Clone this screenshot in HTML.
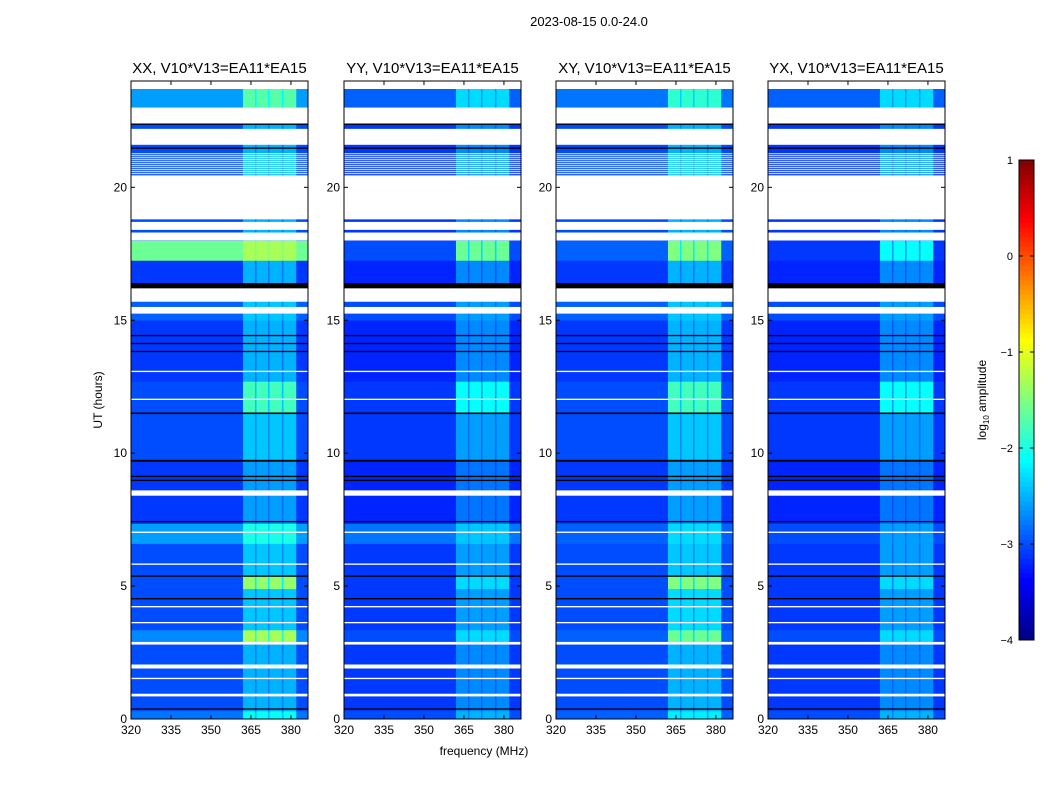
<!DOCTYPE html>
<html><head><meta charset="utf-8"><style>
body{margin:0;background:#fff;font-family:"Liberation Sans",sans-serif}
svg{display:block}
text{font-family:"Liberation Sans",sans-serif}
</style></head><body>
<svg id="fig" width="1050" height="800" viewBox="0 0 1050 800">
<text x="589" y="26" font-size="13" text-anchor="middle">2023-08-15 0.0-24.0</text>
<text x="484" y="755" font-size="12" text-anchor="middle">frequency (MHz)</text>
<text transform="translate(102,400) rotate(-90)" font-size="12" text-anchor="middle">UT (hours)</text>
<text transform="translate(986,400) rotate(-90)" font-size="12" text-anchor="middle">log<tspan font-size="8" dy="3">10</tspan><tspan dy="-3"> amplitude</tspan></text>
</svg>
<script>
// ---- data ----
const panelTitles = ["XX, V10*V13=EA11*EA15","YY, V10*V13=EA11*EA15","XY, V10*V13=EA11*EA15","YX, V10*V13=EA11*EA15"];
const xTicks = [320,335,350,365,380];
const yTicks = [0,5,10,15,20];
const cbTicks = [1,0,-1,-2,-3,-4];
const cbTickLabels = ["1","0","\u22121","\u22122","\u22123","\u22124"];
const segStart = [0,0.3,0.9,2.0,2.9,3.35,4.9,5.4,6.6,7.35,9.7,11.5,12.7,15.0,16.4,17.25,18.0,20.45,21.3,23.0];
const segEnd   = [0.3,0.9,2.0,2.85,3.35,4.9,5.4,6.6,7.35,9.7,11.5,12.7,15.0,15.7,17.25,18.0,18.8,21.3,22.4,23.7];
const xxBase = [-2.8,-3.0,-3.0,-3.0,-2.7,-3.0,-3.0,-3.0,-2.6,-3.1,-3.0,-3.0,-3.1,-2.9,-3.1,-1.6,-3.0,-3.0,-3.0,-2.6];
const xxBoost= [0.7,0.5,0.5,0.5,1.4,0.6,1.6,0.6,0.6,0.5,0.6,1.2,0.6,0.5,0.6,0.3,0.5,0.6,0.5,0.9];
const yyBase = [-3.0,-3.1,-3.1,-3.1,-3.0,-3.1,-3.1,-3.1,-2.8,-3.2,-3.1,-3.1,-3.2,-3.0,-3.2,-3.0,-3.1,-3.1,-3.1,-2.9];
const yyBoost= [0.5,0.4,0.4,0.4,0.7,0.5,0.8,0.5,0.4,0.4,0.5,1.0,0.5,0.4,0.5,1.4,0.4,0.5,0.4,0.6];
const xyBase = [-2.9,-3.0,-3.0,-3.0,-2.9,-3.0,-3.0,-3.0,-2.9,-3.1,-3.0,-3.0,-3.1,-2.9,-3.1,-2.9,-3.0,-3.0,-3.0,-2.8];
const xyBoost= [0.7,0.5,0.5,0.5,1.3,0.7,1.5,0.6,0.6,0.5,0.6,1.2,0.6,0.5,0.6,1.4,0.5,0.6,0.5,0.9];
const yxBase = [-3.0,-3.1,-3.1,-3.1,-3.0,-3.1,-3.1,-3.1,-3.0,-3.2,-3.1,-3.1,-3.2,-3.0,-3.2,-3.1,-3.1,-3.1,-3.1,-2.9];
const yxBoost= [0.5,0.4,0.4,0.4,0.7,0.5,0.8,0.5,0.4,0.4,0.5,1.0,0.5,0.4,0.5,1.0,0.4,0.5,0.4,0.6];
const bandLo = [320,362,366.5,367.1,371.4,372.0,376.6,377.2,382.0];
const bandHi = [362,366.5,367.1,371.4,372.0,376.6,377.2,382.0,386.4];
const bandW  = [0,1,0.5,1,0.5,1,0.5,1,0];
const whiteLo = [23.7,22.4,21.6,18.8,18.4,18.0,15.7,15.25,13.05,12.0,7.0,5.8,4.2,3.6,2.8,1.9,0.85,8.4,1.5];
const whiteHi = [24.0,23.0,22.2,20.45,18.7,18.3,16.2,15.5,13.1,12.05,7.05,5.85,4.25,3.65,2.9,2.05,0.95,8.6,1.55];
const blackLo = [16.2,11.47,9.68,9.1,22.35,21.45,14.1,13.8,5.35,4.5,0.35,7.4,8.95,14.4];
const blackHi = [16.4,11.53,9.75,9.15,22.4,21.5,14.15,13.85,5.4,4.55,0.4,7.45,9.0,14.45];
const panelBase = [xxBase,yyBase,xyBase,yxBase];
const panelBoost = [xxBoost,yyBoost,xyBoost,yxBoost];
// ---- layout ----
const NS="http://www.w3.org/2000/svg";
const svg=document.getElementById('fig');
const panelX=[131,344,556,768], PW=177, PT=81, PB=719;
const fmin=320,fmax=386.4,tmin=0,tmax=24;
function el(t,a,p){const e=document.createElementNS(NS,t);for(const k in a)e.setAttribute(k,a[k]);(p||svg).appendChild(e);return e;}
function jet(v){let t=(v+4)/5;t=Math.max(0,Math.min(1,t));
 const r=Math.max(0,Math.min(1,1.5-Math.abs(4*t-3))),g=Math.max(0,Math.min(1,1.5-Math.abs(4*t-2))),b=Math.max(0,Math.min(1,1.5-Math.abs(4*t-1)));
 return `rgb(${Math.round(r*255)},${Math.round(g*255)},${Math.round(b*255)})`;}
panelX.forEach((x0,pi)=>{
 const xs=f=>x0+(f-fmin)/(fmax-fmin)*PW;
 const ys=h=>PB-(h-tmin)/(tmax-tmin)*(PB-PT);
 const g=el('g',{});
 
 
 el('rect',{x:x0,y:PT,width:PW,height:PB-PT,fill:'#fff'},g);
 const base=panelBase[pi],boost=panelBoost[pi];
 segStart.forEach((s,si)=>{
  bandLo.forEach((lo,bi)=>{
   const r=el('rect',{x:xs(lo),y:ys(segEnd[si]),width:xs(bandHi[bi])-xs(lo)+0.3,height:ys(segStart[si])-ys(segEnd[si])+0.3,fill:jet(base[si]+boost[si]*bandW[bi])},g);
   
   
  });
 });
 for(let h=20.5;h<21.3;h+=0.075){el('rect',{x:x0,y:ys(h+0.03),width:PW,height:0.9,fill:'#fff'},g);}
 whiteLo.forEach((lo,i)=>{el('rect',{x:x0,y:ys(whiteHi[i]),width:PW,height:ys(lo)-ys(whiteHi[i]),fill:'#fff'},g);});
 blackLo.forEach((lo,i)=>{el('rect',{x:x0,y:ys(blackHi[i]),width:PW,height:Math.max(1,ys(lo)-ys(blackHi[i])),fill:'#000'},g);});
 el('rect',{x:x0,y:PT,width:PW,height:PB-PT,fill:'none',stroke:'#000','stroke-width':1},g);
 xTicks.forEach(v=>{const X=xs(v);
  el('line',{x1:X,x2:X,y1:PB,y2:PB-4,stroke:'#000'},g);el('line',{x1:X,x2:X,y1:PT,y2:PT+4,stroke:'#000'},g);
  const t=el('text',{x:X,y:PB+15,'font-size':12,'text-anchor':'middle'},g);t.textContent=v;
  });
 yTicks.forEach(v=>{const Y=ys(v);
  el('line',{x1:x0,x2:x0+4,y1:Y,y2:Y,stroke:'#000'},g);el('line',{x1:x0+PW,x2:x0+PW-4,y1:Y,y2:Y,stroke:'#000'},g);
  const t=el('text',{x:x0-4,y:Y+4,'font-size':12,'text-anchor':'end'},g);t.textContent=v;
  });
 const tt=el('text',{x:x0+PW/2,y:73,'font-size':15,'text-anchor':'middle'},g);tt.textContent=panelTitles[pi];
 
});
// colorbar
const cb=el('g',{});


const CX=1019,CW=15,CT=160,CB=640;
const cy=v=>CB-(v+4)/5*(CB-CT);
for(let i=0;i<100;i++){const v=-4+i*0.05;el('rect',{x:CX,y:cy(v+0.05),width:CW,height:(CB-CT)/100+0.5,fill:jet(v+0.025)},cb);}
el('rect',{x:CX,y:CT,width:CW,height:CB-CT,fill:'none',stroke:'#000'},cb);
cbTicks.forEach((v,i)=>{const Y=cy(v);
 el('line',{x1:CX,x2:CX+4,y1:Y,y2:Y,stroke:'#000'},cb);el('line',{x1:CX+CW,x2:CX+CW-4,y1:Y,y2:Y,stroke:'#000'},cb);
 const t=el('text',{x:CX-6,y:Y+4,'font-size':11,'text-anchor':'end'},cb);t.textContent=cbTickLabels[i];
 });
</script>
</body></html>
